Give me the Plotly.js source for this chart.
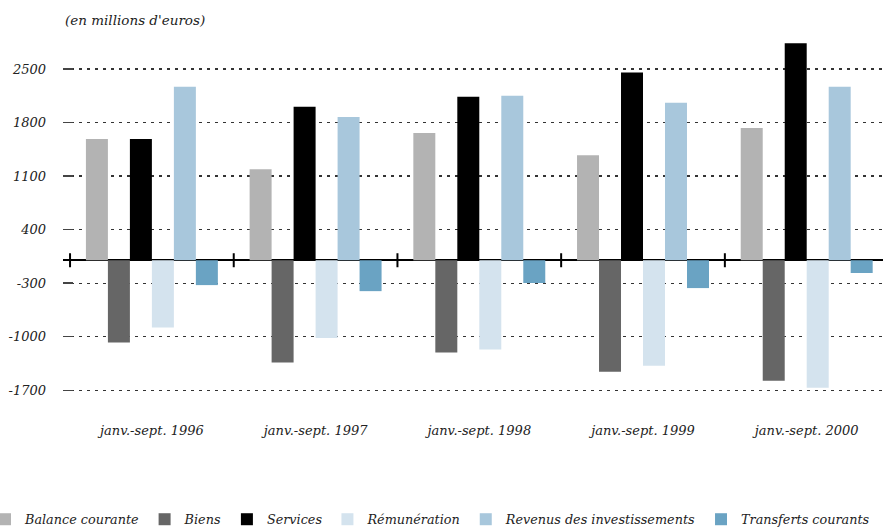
<!DOCTYPE html>
<html>
<head>
<meta charset="utf-8">
<script src="https://cdn.plot.ly/plotly-3.0.1.min.js"></script>
<style>
html, body { margin: 0; padding: 0; overflow: hidden; background: #fff; }
#chart { width: 1030px; height: 527px; }
</style>
</head>
<body>
<div id="chart"></div>
<script>
const categories = ['janv.-sept. 1996', 'janv.-sept. 1997', 'janv.-sept. 1998', 'janv.-sept. 1999', 'janv.-sept. 2000'];
const balanceCourante = [1584, 1189, 1663, 1373, 1729];
const biens = [-1075, -1338, -1207, -1457, -1575];
const services = [1584, 2005, 2137, 2453, 2835];
const remuneration = [-878, -1018, -1167, -1378, -1667];
const revenus = [2269, 1874, 2150, 2058, 2269];
const transferts = [-325, -404, -298, -364, -167];
const yTicks = [2500, 1800, 1100, 400, -300, -1000, -1700];
const seriesNames = ['Balance courante', 'Biens', 'Services', 'Rémunération', 'Revenus des investissements', 'Transferts courants'];
const seriesColors = ['#b3b3b3', '#666666', '#000000', '#d4e3ee', '#a8c7dc', '#6aa3c3'];
const seriesValues = [balanceCourante, biens, services, remuneration, revenus, transferts];

const fontFamily = 'DejaVu Serif, Liberation Serif, serif';

const traces = seriesValues.map((vals, i) => ({
  type: 'bar',
  name: seriesNames[i],
  x: categories,
  y: vals,
  marker: { color: seriesColors[i], line: { width: 0 } },
  hoverinfo: 'skip'
}));

// boundary tick marks on the zero line
const shapes = [];
for (let i = 0; i <= categories.length; i++) {
  shapes.push({
    type: 'line', xref: 'x', yref: 'y',
    x0: i - 0.5, x1: i - 0.5,
    ysizemode: 'pixel', yanchor: 0, y0: -7, y1: 7,
    line: { color: '#000', width: 2 }
  });
}

const layout = {
  width: 1030,
  height: 527,
  margin: { l: 63, r: 0, t: 40, b: 127, autoexpand: false },
  paper_bgcolor: '#fff',
  plot_bgcolor: '#fff',
  barmode: 'group',
  bargap: 0.194,
  bargroupgap: 0,
  font: { family: fontFamily, style: 'italic', color: '#222', size: 13 },
  showlegend: true,
  legend: {
    orientation: 'h',
    x: 0.3795, xanchor: 'center',
    y: -0.29, yanchor: 'top',
    font: { family: fontFamily, style: 'italic', size: 12.8, color: '#222' },
    traceorder: 'normal',
    bgcolor: 'rgba(0,0,0,0)'
  },
  xaxis: {
    type: 'category',
    range: [-0.543, 5.364],
    showgrid: false,
    showline: false,
    zeroline: false,
    ticks: '',
    ticklabelstandoff: 21,
    tickfont: { family: fontFamily, style: 'italic', size: 13, color: '#222' },
    fixedrange: true
  },
  yaxis: {
    range: [-1827, 2879],
    tickvals: yTicks,
    ticktext: yTicks.map(String),
    ticks: 'inside',
    ticklen: 10,
    tickwidth: 1.5,
    tickcolor: '#444',
    ticklabelstandoff: 16,
    tickfont: { family: fontFamily, style: 'italic', size: 13, color: '#222' },
    showgrid: true,
    gridcolor: '#333',
    gridwidth: 1.3,
    griddash: '3px,5px',
    zeroline: true,
    zerolinecolor: '#000',
    zerolinewidth: 2,
    showline: false,
    fixedrange: true
  },
  shapes: shapes,
  annotations: [{
    text: "(en millions d'euros)",
    xref: 'paper', yref: 'paper',
    x: 0, y: 1.056,
    xanchor: 'left', yanchor: 'middle',
    showarrow: false,
    font: { family: fontFamily, style: 'italic', size: 13.5, color: '#222' }
  }]
};

Plotly.newPlot('chart', traces, layout, { staticPlot: true, displayModeBar: false });
</script>
</body>
</html>
